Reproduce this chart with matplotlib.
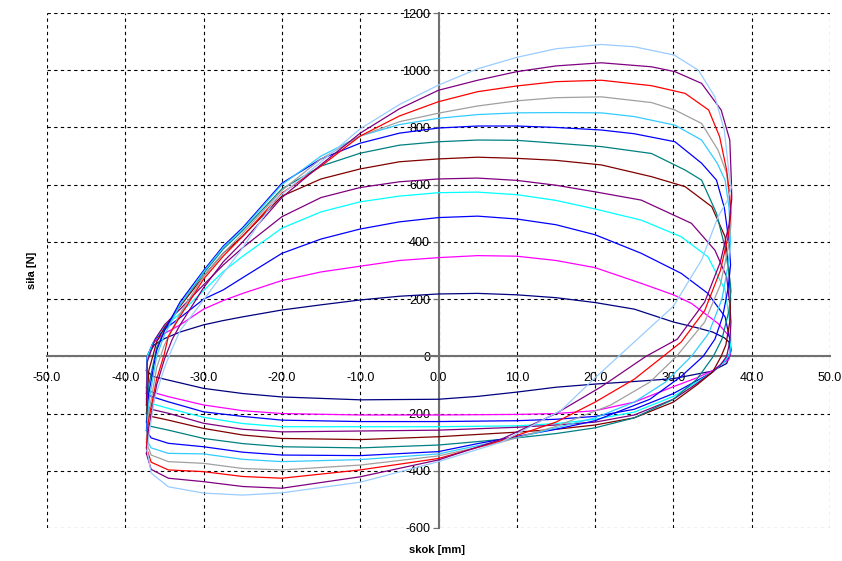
import matplotlib
matplotlib.use("Agg")
import matplotlib.pyplot as plt
from matplotlib.ticker import FormatStrFormatter, MultipleLocator

plt.rcParams["font.family"] = ["Liberation Sans", "DejaVu Sans"]

# force vs stroke loops: (stroke mm, force N)
navy_upper = [(-37.3, -50), (-37.2, 0), (-36.3, 40), (-35, 62), (-33, 85), (-30, 110), (-27.5, 125),
              (-25, 138), (-20, 162), (-15, 180), (-10, 197), (-5, 210), (0, 218), (5, 220), (10, 215),
              (15, 205), (20, 188), (25, 165), (30, 120), (33, 100), (35, 85), (36.5, 65), (37.1, 50),
              (37.3, 10)]
navy_lower = [(36.8, -25), (34.9, -52), (30, -78), (25, -88), (20, -97), (15, -108), (10, -125),
              (5, -140), (0, -150), (-10, -152), (-20, -142), (-25, -130), (-30, -112), (-34.5, -83),
              (-36.5, -70)]

magenta_upper = [(-37.3, -110), (-37.2, 0), (-36.5, 45), (-35, 80), (-33, 110), (-30, 165), (-27.5, 195),
                 (-25, 220), (-20, 265), (-15, 295), (-10, 315), (-5, 335), (0, 345), (5, 352), (10, 350),
                 (15, 335), (20, 310), (25.9, 255), (30, 215), (32.3, 185), (35.7, 115), (37.2, 68),
                 (37.35, 20)]
magenta_lower = [(37.1, -10), (35, -50), (33, -75), (30, -106), (25, -160), (20, -190), (15, -200),
                 (10, -203), (0, -205), (-10, -205), (-20, -200), (-25, -190), (-30, -170), (-34.5, -141),
                 (-36.7, -124)]

blue_upper = [(-37.3, -130), (-37.2, 0), (-36.4, 50), (-35, 95), (-33, 135), (-30, 200), (-27.5, 232),
              (-25, 275), (-20, 360), (-15, 410), (-10, 445), (-5, 470), (0, 485), (5, 490), (10, 480),
              (15, 460), (20, 425), (25.9, 360), (31, 290), (34.4, 220), (36.6, 138), (37.2, 60),
              (37.35, 20)]
blue_lower = [(36.8, -10), (35, -55), (33, -85), (30, -130), (25, -185), (20, -210), (15, -220),
              (10, -225), (0, -228), (-10, -228), (-20, -223), (-25, -210), (-30, -194), (-34.5, -159),
              (-36.7, -140)]

cyan_upper = [(-37.3, -150), (-37.2, 0), (-36.3, 55), (-35, 105), (-33, 150), (-30, 230), (-27.5, 296),
              (-25, 350), (-20, 448), (-15, 505), (-10, 540), (-5, 560), (0, 572), (5, 574), (10, 565),
              (15, 545), (20, 515), (25.9, 476), (31, 418), (34.4, 348), (36.6, 232), (37.2, 120),
              (37.35, 60)]
cyan_lower = [(37.2, 10), (36.5, -20), (35, -55), (33, -90), (30, -140), (25, -195), (20, -220),
              (15, -235), (10, -243), (0, -246), (-10, -246), (-20, -246), (-25, -235), (-30, -213),
              (-34.5, -182), (-36.7, -165)]

purple_upper = [(-37.3, -170), (-37.2, -20), (-36.2, 60), (-35, 110), (-33, 165), (-30, 250),
                (-27.5, 319), (-25, 380), (-20, 488), (-15, 555), (-10, 590), (-5, 610), (0, 620),
                (5, 623), (10, 615), (15, 598), (20, 575), (25.9, 546), (32.3, 465), (35.3, 371),
                (36.8, 278), (37.2, 180), (37.35, 120)]
purple_lower = [(37.2, 50), (36.8, 0), (36, -30), (35, -55), (33, -95), (30, -150), (25, -205),
                (20, -230), (15, -240), (10, -248), (0, -258), (-10, -261), (-20, -264), (-25, -255),
                (-30, -234), (-34.5, -199), (-36.7, -185)]

maroon_upper = [(-37.3, -200), (-37, -50), (-36, 50), (-35, 100), (-33, 175), (-30, 280), (-27.5, 360),
                (-25, 420), (-20, 560), (-15, 620), (-10, 655), (-5, 680), (0, 690), (5, 696), (10, 692),
                (15, 685), (20.8, 669), (27.2, 628), (31.5, 593), (34.9, 523), (36.6, 418), (37.1, 300),
                (37.3, 200)]
maroon_lower = [(37.2, 120), (36.7, 40), (36.1, 0), (35, -55), (33, -100), (30, -160), (25, -215),
                (20, -240), (15, -255), (10, -265), (0, -281), (-10, -291), (-20, -287), (-25, -275),
                (-30, -252), (-34.5, -223), (-36.7, -210)]

teal_upper = [(-37.3, -230), (-37, -100), (-36, 30), (-35, 90), (-33, 180), (-30, 290), (-27.5, 375),
              (-25, 440), (-20, 585), (-15, 665), (-10, 710), (-5, 738), (0, 750), (5, 756), (10, 755),
              (15, 745), (20.8, 733), (27.2, 709), (31.5, 651), (33.6, 616), (35.5, 500), (36.6, 380),
              (37.2, 270), (37.35, 230)]
teal_lower = [(37.1, 160), (36.2, 60), (35.1, 0), (33, -80), (30, -150), (25, -215), (20, -250),
              (15, -270), (10, -285), (5, -298), (0, -310), (-10, -320), (-20, -316), (-25, -305),
              (-30, -287), (-34.5, -258), (-36.7, -245)]

blue2_upper = [(-37.3, -260), (-37, -130), (-36, 20), (-35, 90), (-33, 190), (-30, 300), (-27.5, 385),
               (-25, 450), (-20, 605), (-15, 690), (-10, 745), (-5, 780), (0, 798), (5, 805), (10, 805),
               (15, 800), (20.8, 791), (25, 778), (30.2, 750), (33.6, 675), (35.5, 616), (36.5, 520),
               (37.1, 400), (37.3, 320)]
blue2_lower = [(37, 240), (36.3, 140), (35.3, 60), (33.8, 0), (31, -70), (27, -150), (20, -225),
               (15, -255), (10, -280), (5, -305), (0, -333), (-10, -347), (-20, -345), (-25, -335),
               (-30, -316), (-34.5, -304), (-36.7, -285)]

cyan2_upper = [(-37.3, -290), (-37, -160), (-36, 0), (-35, 75), (-33, 180), (-30, 295), (-27.5, 380),
               (-25, 445), (-20, 600), (-15, 700), (-10, 770), (-5, 810), (0, 832), (5, 845), (10, 851),
               (15, 852), (20.8, 851), (25, 838), (30.2, 808), (33.6, 756), (35.6, 675), (36.6, 616),
               (37.1, 520), (37.3, 400)]
cyan2_lower = [(37, 320), (36.2, 200), (34.5, 80), (32.3, 0), (29, -90), (25, -160), (20, -215),
               (15, -250), (10, -285), (5, -312), (0, -341), (-10, -361), (-20, -368), (-25, -360),
               (-30, -341), (-34.5, -339), (-36.7, -320)]

gray_upper = [(-37.3, -300), (-37, -200), (-36, -40), (-35, 40), (-33, 150), (-30, 280), (-27.5, 360),
              (-25, 430), (-20, 580), (-15, 690), (-10, 770), (-5, 820), (0, 850), (5, 875), (10, 893),
              (15, 904), (20.8, 907), (27.2, 887), (30.2, 861), (33.6, 814), (35.7, 721), (36.8, 640),
              (37.2, 540), (37.35, 460)]
gray_lower = [(37, 380), (36, 250), (34, 120), (30.4, 0), (27, -90), (22, -170), (15, -245), (8, -300),
              (0, -348), (-10, -380), (-20, -397), (-25, -392), (-30, -374), (-34.5, -368), (-36.7, -345)]

red_upper = [(-37.3, -320), (-37.1, -234), (-36, -80), (-35, 10), (-34.5, 70), (-33, 140), (-30, 270),
             (-27.5, 350), (-25, 420), (-20, 570), (-15, 665), (-10, 770), (-5, 840), (0, 890), (5, 925),
             (10, 945), (15, 960), (20.8, 965), (27.2, 946), (31.5, 919), (34.5, 861), (35.9, 768),
             (36.8, 651), (37.2, 560), (37.35, 500)]
red_lower = [(37, 420), (36, 300), (34, 160), (31, 50), (28.7, 0), (25, -80), (20, -160), (15, -230),
             (8, -295), (0, -357), (-10, -397), (-20, -426), (-25, -420), (-30, -403), (-34.5, -397),
             (-36.7, -370)]

purple2_upper = [(-37.3, -340), (-37, -250), (-36, -100), (-35, -10), (-34, 60), (-33, 110), (-30, 240),
                 (-27.5, 330), (-25, 400), (-20, 555), (-15, 670), (-10, 780), (-5, 865), (0, 930),
                 (5, 965), (10, 995), (15, 1015), (20.8, 1026), (27.2, 1012), (30.2, 995), (33.6, 954),
                 (36.1, 861), (37.2, 756), (37.4, 616), (37.45, 550)]
purple2_lower = [(37.1, 460), (36, 330), (34, 190), (30.5, 60), (26.5, 0), (20.8, -106), (15, -200),
                 (8, -290), (0, -362), (-10, -421), (-20, -461), (-25, -455), (-30, -438), (-34.5, -426),
                 (-36.7, -395)]

lightblue_upper = [(-37.2, -330), (-37, -280), (-36.3, -150), (-35, -40), (-34.1, 22), (-33, 90),
                   (-30, 197), (-27.5, 290), (-25.2, 372), (-20.9, 546), (-15, 680), (-10, 795), (-5, 880),
                   (0, 948), (5, 1005), (10, 1045), (15, 1075), (20.8, 1090), (25, 1082), (30.1, 1053),
                   (33.2, 1000), (35.3, 907), (36.5, 791), (37.2, 616), (37.4, 590)]
lightblue_lower = [(36.9, 545), (35.7, 488), (33.6, 337), (30, 175), (26, 75), (23, 0), (20, -75),
                   (15.7, -188), (8, -300), (0, -368), (-10, -440), (-20, -477), (-25, -485), (-30, -478),
                   (-34.5, -456), (-36.7, -408)]

curves = [
    (navy_upper, navy_lower, "#000080"),
    (magenta_upper, magenta_lower, "#ff00ff"),
    (blue_upper, blue_lower, "#0000ff"),
    (cyan_upper, cyan_lower, "#00ffff"),
    (purple_upper, purple_lower, "#800080"),
    (maroon_upper, maroon_lower, "#800000"),
    (teal_upper, teal_lower, "#008080"),
    (blue2_upper, blue2_lower, "#0000ff"),
    (cyan2_upper, cyan2_lower, "#33ccff"),
    (gray_upper, gray_lower, "#a0a0a0"),
    (red_upper, red_lower, "#ff0000"),
    (purple2_upper, purple2_lower, "#800080"),
    (lightblue_upper, lightblue_lower, "#99ccff"),
]

fig = plt.figure(figsize=(8.42, 5.61), dpi=100)
ax = fig.add_axes([47 / 842, 1 - 528 / 561, 783 / 842, 515 / 561])

for upper, lower, color in curves:
    pts = upper + lower + [upper[0]]
    xs = [p[0] for p in pts]
    ys = [p[1] for p in pts]
    ax.plot(xs, ys, color=color, linewidth=0.9, zorder=3,
            solid_joinstyle="round")

ax.set_xlim(-50, 50)
ax.set_ylim(-600, 1200)
ax.xaxis.set_major_locator(MultipleLocator(10))
ax.yaxis.set_major_locator(MultipleLocator(200))
ax.xaxis.set_major_formatter(FormatStrFormatter("%.1f"))
ax.yaxis.set_major_formatter(FormatStrFormatter("%d"))

ax.grid(True, color="black", linestyle=(0, (3, 3)), linewidth=0.8)
ax.set_axisbelow(True)

for side in ["top", "right"]:
    ax.spines[side].set_visible(False)
ax.spines["left"].set_position(("data", 0))
ax.spines["bottom"].set_position(("data", 0))
for side in ["left", "bottom"]:
    ax.spines[side].set_color("#707070")
    ax.spines[side].set_linewidth(1.5)
    ax.spines[side].set_zorder(2.5)

ax.tick_params(axis="x", length=0, labelsize=9, pad=11)
ax.tick_params(axis="y", length=4, color="#707070", labelsize=9, pad=2)

fig.text(437 / 842, 1 - 550 / 561, "skok [mm]", ha="center", va="center",
         fontsize=8, fontweight="bold")
fig.text(32 / 842, 1 - 270 / 561, "siła [N]", ha="center", va="center",
         rotation=90, fontsize=8, fontweight="bold")

plt.savefig("out.png", dpi=100)
